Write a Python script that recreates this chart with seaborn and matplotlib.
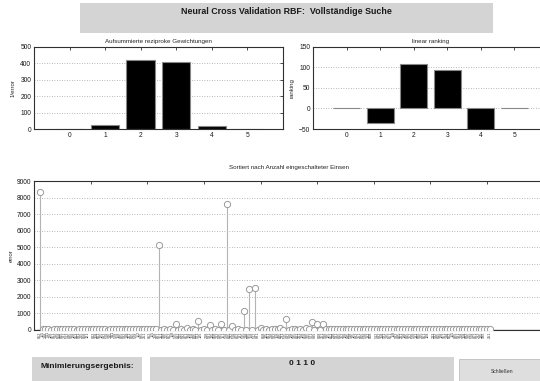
import matplotlib
matplotlib.use("Agg")
import matplotlib.pyplot as plt
from matplotlib.patches import Rectangle
import numpy as np
import pandas as pd
import seaborn as sns

# ---- data -------------------------------------------------------------
inputs = [0, 1, 2, 3, 4, 5]
reciprocal_weights = [0, 25, 420, 410, 20, 0]
linear_ranking = [0, -35, 107, 93, -55, 0]

cv_error = [
    8350, 35, 30, 40, 25, 35, 30, 45, 30, 35,
    40, 30, 35, 25, 40, 30, 35, 30, 45, 35,
    30, 40, 35, 30, 25, 35, 40, 30, 35, 30,
    40, 35, 30, 45, 30, 35, 30, 40, 35, 30,
    35, 30, 5130, 15, 40, 10, 30, 5, 350, 10,
    60, 5, 140, 10, 60, 5, 520, 10, 30, 5,
    280, 10, 60, 5, 340, 10, 7600, 5, 220, 10,
    30, 5, 1160, 10, 2470, 5, 2550, 10, 100, 15,
    40, 20, 35, 60, 30, 100, 15, 660, 20, 30,
    60, 25, 60, 20, 100, 30, 460, 20, 340, 25,
    380, 30, 40, 35, 30, 40, 35, 30, 45, 35,
    30, 40, 35, 30, 40, 35, 30, 45, 35, 30,
    40, 35, 30, 40, 35, 45, 30, 35, 40, 30,
    35, 40, 30, 35, 45, 30, 40, 35, 30, 40,
    35, 30, 40, 35, 30, 45, 35, 30, 40, 35,
    30, 40, 35, 30, 45, 35, 40, 30, 35, 40,
]
run_labels = (
    "852 115 288 511 128 851 286 558 815 281 "
    "512 885 128 552 881 215 858 121 585 812 "
    "258 851 125 882 518 285 811 528 158 825 "
    "582 188 251 815 528 112 885 251 518 852 "
    "115 258 821 151 588 215 852 118 525 881 "
    "215 582 851 128 258 815 521 185 852 218 "
    "581 125 858 212 885 151 528 815 282 518 "
    "852 181 515 288 825 158 512 881 225 858 "
    "125 851 218 582 158 825 281 515 882 128 "
    "585 812 251 128 858 215 521 885 152 818 "
    "251 588 125 852 218 581 815 252 128 885 "
    "518 125 882 251 815 528 182 858 215 512 "
    "882 158 521 285 851 118 582 825 251 188 "
    "815 252 528 181 885 215 851 128 558 212 "
    "582 815 128 551 288 852 115 825 581 218 "
    "158 882 215 518 851 282 125 585 812 251"
).split()
result_bits = "0 1 1 0"

# ---- style ------------------------------------------------------------
sns.set_theme(style="white")
plt.rcParams["font.family"] = ["Liberation Sans", "DejaVu Sans"]

fig = plt.figure(figsize=(5.4, 3.81), dpi=100)
fig.patch.set_facecolor("white")

SPINE = "#303030"
GRID = "#a0a0a0"


def frame(ax):
    for s in ax.spines.values():
        s.set_color(SPINE)
        s.set_linewidth(0.8)
    ax.tick_params(direction="in", top=True, right=True, length=2.5,
                   width=0.6, colors=SPINE, labelsize=4.8, pad=2,
                   labelcolor="#1a1a1a")
    ax.yaxis.grid(True, linestyle=(0, (1, 2)), color=GRID, linewidth=0.6)
    ax.xaxis.grid(False)
    ax.set_axisbelow(True)


# ---- header -----------------------------------------------------------
fig.patches.append(Rectangle((0.148, 0.913), 0.765, 0.079,
                             transform=fig.transFigure, facecolor="#d4d4d4",
                             edgecolor="none", zorder=0))
fig.text(0.531, 0.970, "Neural Cross Validation RBF:  Vollständige Suche",
         ha="center", va="center", fontsize=6.4, fontweight="bold",
         color="#1a1a1a")

# ---- top left: summed reciprocal weights -----------------------------
ax1 = fig.add_axes([0.063, 0.6614, 0.461, 0.216])
df1 = pd.DataFrame({"input": inputs, "value": reciprocal_weights})
sns.barplot(data=df1, x="input", y="value", ax=ax1, color="black",
            width=0.8, edgecolor="#888888", linewidth=0.8, saturation=1)
ax1.set_xlim(-1, 6)
ax1.set_ylim(0, 500)
ax1.set_yticks([0, 100, 200, 300, 400, 500])
ax1.set_xlabel("")
ax1.set_ylabel("1/error", fontsize=4.4, labelpad=3)
ax1.set_title("Aufsummierte reziproke Gewichtungen", fontsize=4.5, pad=3)
frame(ax1)

# ---- top right: linear ranking ---------------------------------------
ax2 = fig.add_axes([0.5796, 0.6614, 0.435, 0.216])
df2 = pd.DataFrame({"input": inputs, "value": linear_ranking})
sns.barplot(data=df2, x="input", y="value", ax=ax2, color="black",
            width=0.8, edgecolor="#888888", linewidth=0.8, saturation=1)
ax2.set_xlim(-1, 6)
ax2.set_ylim(-50, 150)
ax2.set_yticks([-50, 0, 50, 100, 150])
ax2.set_xlabel("")
ax2.set_ylabel("ranking", fontsize=4.4, labelpad=3)
ax2.set_title("linear ranking", fontsize=4.5, pad=3)
frame(ax2)

# ---- bottom: error per run, sorted by number of active inputs ---------
ax3 = fig.add_axes([0.063, 0.1339, 0.944, 0.391])
run_pos = np.arange(2, 2 + len(cv_error))
df3 = pd.DataFrame({"pos": run_pos, "error": cv_error})
ax3.vlines(df3["pos"], 0, df3["error"], color="#b4b4b4", linewidth=0.8,
           zorder=2)
ax3.axhline(0, color="#8c8c8c", linewidth=1.0, zorder=2)
sns.scatterplot(data=df3, x="pos", y="error", ax=ax3, marker="o", s=20,
                facecolor="white", edgecolor="#9a9a9a", linewidth=0.7,
                zorder=3, legend=False)
ax3.set_xlim(0, 180)
ax3.set_ylim(0, 9000)
ax3.set_yticks(range(0, 9001, 1000))
ax3.set_xticks(range(20, 180, 20), labels=[""] * 8)
ax3.set_xticks(run_pos, labels=run_labels, minor=True)
ax3.set_xlabel("")
ax3.set_ylabel("error", fontsize=4.4, labelpad=2)
ax3.set_title("Sortiert nach Anzahl eingeschalteter Einsen", fontsize=4.5,
              pad=9)
frame(ax3)
ax3.tick_params(axis="x", which="minor", length=0, labelsize=2.7,
                labelrotation=90, pad=1, labelcolor="#404040")

# ---- footer: result display and close button -------------------------
fig.patches.append(Rectangle((0.059, 0.0), 0.204, 0.062,
                             transform=fig.transFigure, facecolor="#d4d4d4",
                             edgecolor="none"))
fig.text(0.161, 0.037, "Minimierungsergebnis:", ha="center", va="center",
         fontsize=6.0, fontweight="bold", color="#1a1a1a")
fig.patches.append(Rectangle((0.278, 0.0), 0.563, 0.062,
                             transform=fig.transFigure, facecolor="#d4d4d4",
                             edgecolor="none"))
fig.text(0.559, 0.046, result_bits, ha="center", va="center",
         fontsize=6.0, fontweight="bold", color="#1a1a1a")
fig.patches.append(Rectangle((0.850, 0.0), 0.160, 0.058,
                             transform=fig.transFigure, facecolor="#dedede",
                             edgecolor="#bdbdbd", linewidth=0.6))
fig.text(0.930, 0.025, "Schließen", ha="center", va="center",
         fontsize=3.6, color="#303030")

fig.savefig("out.png", dpi=100)
